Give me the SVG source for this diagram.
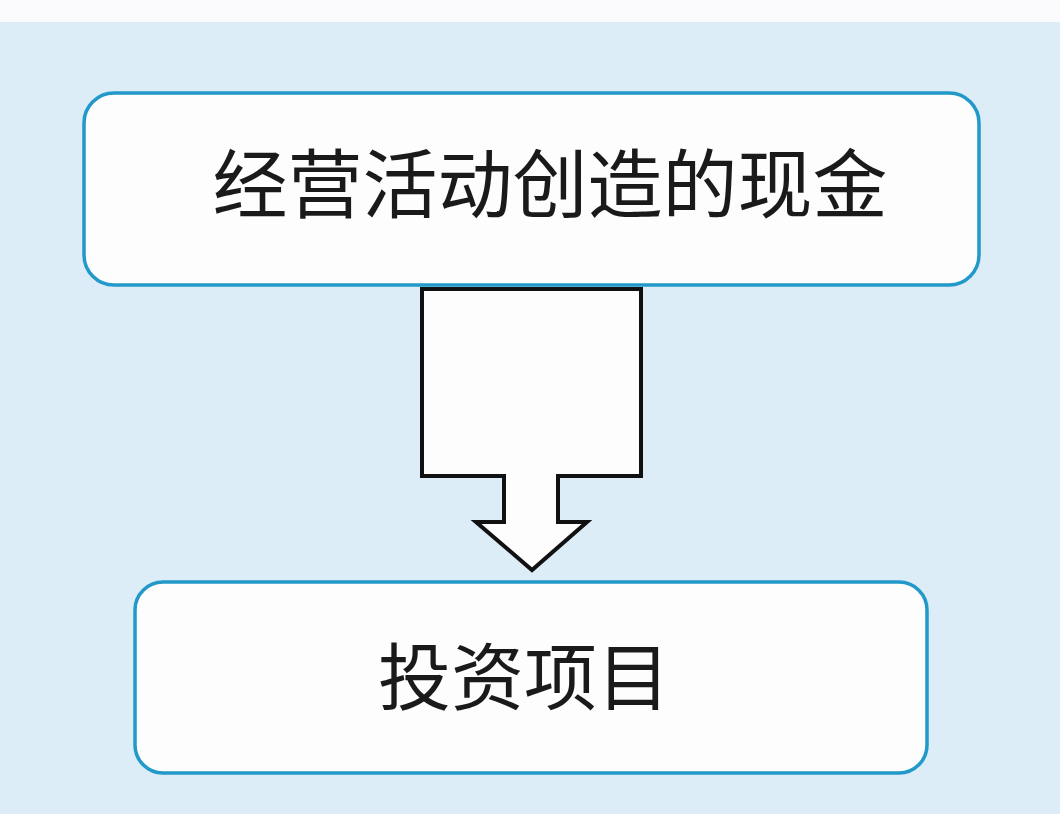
<svg xmlns="http://www.w3.org/2000/svg" width="1060" height="814" viewBox="0 0 1060 814">
<style>
.box{fill:#fdfdfe;stroke:#2299c9;stroke-width:3.5}
.t{font-family:"Noto Sans CJK SC","Noto Sans CJK TC",sans-serif;fill:#1a1a1a;text-anchor:middle}
</style>
<rect x="0" y="0" width="1060" height="814" fill="#dcedf8"/>
<rect x="0" y="0" width="1060" height="22" fill="#fbfbfd"/>
<g id="node-cash">
<rect class="box" x="84" y="93" width="895" height="192" rx="30"/>
<text class="t" x="550" y="212" font-size="75">经营活动创造的现金</text>
</g>
<g id="connectors">
<path d="M422,289 H641 V476 H558 V522 H587 L532,570 L476,522 H504 V476 H422 Z" fill="#fdfdfe" stroke="#111" stroke-width="4" stroke-linejoin="miter"/>
</g>
<g id="node-invest">
<rect class="box" x="135" y="582" width="792" height="191" rx="28"/>
<text class="t" x="524" y="704" font-size="73">投资项目</text>
</g>
</svg>
